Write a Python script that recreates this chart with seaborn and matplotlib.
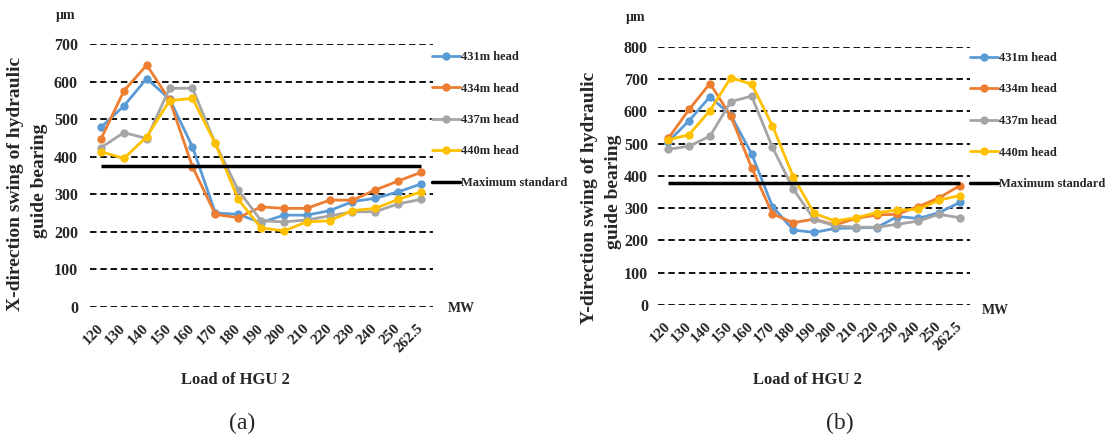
import matplotlib
matplotlib.use("Agg")
import matplotlib.pyplot as plt
from matplotlib.lines import Line2D
import numpy as np
import pandas as pd
import seaborn as sns

# Unit load of HGU 2 (MW) and the four water heads
loads = ["120", "130", "140", "150", "160", "170", "180", "190",
         "200", "210", "220", "230", "240", "250", "262.5"]
heads = ["431m head", "434m head", "437m head", "440m head"]

# X-direction swing of the hydraulic guide bearing (µm)
x_431 = [478, 535, 608, 553, 426, 250, 246, 224, 244, 244, 256, 280, 289, 306, 327]
x_434 = [447, 575, 644, 551, 373, 246, 237, 266, 262, 262, 284, 284, 311, 335, 358]
x_437 = [424, 464, 448, 582, 582, 435, 311, 229, 226, 231, 242, 253, 253, 274, 286]
x_440 = [413, 395, 453, 549, 555, 435, 286, 210, 202, 226, 229, 256, 262, 286, 306]

# Y-direction swing of the hydraulic guide bearing (µm)
y_431 = [506, 571, 645, 588, 468, 305, 232, 225, 237, 239, 240, 274, 268, 286, 318]
y_434 = [516, 606, 686, 585, 425, 282, 255, 266, 248, 268, 279, 281, 305, 332, 370]
y_437 = [482, 492, 523, 630, 647, 488, 359, 265, 245, 241, 241, 250, 260, 281, 270]
y_440 = [511, 528, 602, 704, 684, 555, 397, 284, 260, 270, 286, 294, 296, 325, 339]

# Maximum allowed swing
max_standard_x = 374
max_standard_y = 378

y_ticks_x = list(range(0, 800, 100))
y_ticks_y = list(range(0, 900, 100))

palette = ["#5B9BD5", "#ED7D31", "#A5A5A5", "#FFC000"]

sns.set_style("white")
plt.rcParams["font.family"] = ["Liberation Serif", "DejaVu Serif"]
plt.rcParams["font.weight"] = "bold"

W, H = 1107, 441
fig = plt.figure(figsize=(W / 100, H / 100), dpi=100)


def fx(px):
    return px / W


def fy(py):
    return 1 - py / H


def long_frame(series):
    rows = []
    for head, vals in zip(heads, series):
        for i, (load, v) in enumerate(zip(loads, vals)):
            rows.append({"pos": i, "load": load, "head": head, "swing": v})
    return pd.DataFrame(rows)


def draw_panel(rect, series, standard, yticks, tick_pad, legend_xy, legend_pitch):
    ax = fig.add_axes(rect)
    df = long_frame(series)
    sns.lineplot(data=df, x="pos", y="swing", hue="head", hue_order=heads,
                 palette=palette, marker="o", markersize=6, markeredgewidth=0,
                 linewidth=2.0, legend=False, sort=False, ax=ax, clip_on=False)
    ax.plot([0, len(loads) - 1], [standard, standard], color="black",
            linewidth=2.5, solid_capstyle="butt")
    ax.set_xlim(-0.5, len(loads) - 0.5)
    ax.set_ylim(yticks[0], yticks[-1])
    ax.set_yticks(yticks)
    ax.set_yticklabels([str(t) for t in yticks], fontsize=11.5, fontweight="bold")
    ax.set_xticks(range(len(loads)))
    ax.set_xticklabels(loads, fontsize=11, fontweight="bold", rotation=45,
                       ha="right", va="center", rotation_mode="anchor")
    ax.tick_params(axis="y", length=0, pad=tick_pad)
    ax.tick_params(axis="x", length=0, pad=14)
    ax.set_xlabel("")
    ax.set_ylabel("")
    ax.grid(False)
    ax.yaxis.grid(True, color="black", linestyle=(0, (3.6, 2.1)), linewidth=1.3)
    for s in ax.spines.values():
        s.set_visible(False)
    ax.patch.set_alpha(0)

    handles = [Line2D([], [], color=c, marker="o", markersize=6,
                      markeredgewidth=0, linewidth=2.0) for c in palette]
    handles.append(Line2D([], [], color="black", linewidth=2.5))
    labels = heads + ["Maximum standard"]
    ax.legend(handles, labels, loc="upper left",
              bbox_to_anchor=(fx(legend_xy[0]), fy(legend_xy[1])),
              bbox_transform=fig.transFigure, frameon=False, borderpad=0,
              borderaxespad=0, handlelength=2.2, handletextpad=0.15,
              labelspacing=legend_pitch, prop={"size": 9, "weight": "bold"})
    return ax


# (a) X direction
ax_a = draw_panel([fx(89.6), fy(306.7), fx(342.9), (306.7 - 44) / H],
                  [x_431, x_434, x_437, x_440], max_standard_x, y_ticks_x,
                  8.4, (432, 51), 1.56)
# (b) Y direction
ax_b = draw_panel([fx(657.9), fy(305), fx(312.5), (305 - 46.7) / H],
                  [y_431, y_434, y_437, y_440], max_standard_y, y_ticks_y,
                  7.2, (970, 52), 1.56)

label_kw = dict(fontweight="bold", ha="center", va="center")

# Panel (a) annotations
fig.text(fx(66), fy(15), "µm", fontsize=10, **label_kw)
fig.text(fx(461), fy(308), "MW", fontsize=10, **label_kw)
fig.text(fx(235), fy(380), "Load of HGU 2", fontsize=12, **label_kw)
fig.text(fx(16), fy(184), "X-direction swing of hydraulic", fontsize=14,
         rotation=90, **label_kw)
fig.text(fx(39), fy(181), "guide bearing", fontsize=14, rotation=90, **label_kw)
fig.text(fx(242), fy(423), "(a)", fontsize=17, fontweight="normal",
         ha="center", va="center")

# Panel (b) annotations
fig.text(fx(636), fy(18), "µm", fontsize=10, **label_kw)
fig.text(fx(995), fy(311), "MW", fontsize=10, **label_kw)
fig.text(fx(807), fy(380), "Load of HGU 2", fontsize=12, **label_kw)
fig.text(fx(590), fy(198), "Y-direction swing of hydraulic", fontsize=14,
         rotation=90, **label_kw)
fig.text(fx(613), fy(192), "guide bearing", fontsize=14, rotation=90, **label_kw)
fig.text(fx(840), fy(423), "(b)", fontsize=17, fontweight="normal",
         ha="center", va="center")

fig.savefig("out.png", dpi=100)
